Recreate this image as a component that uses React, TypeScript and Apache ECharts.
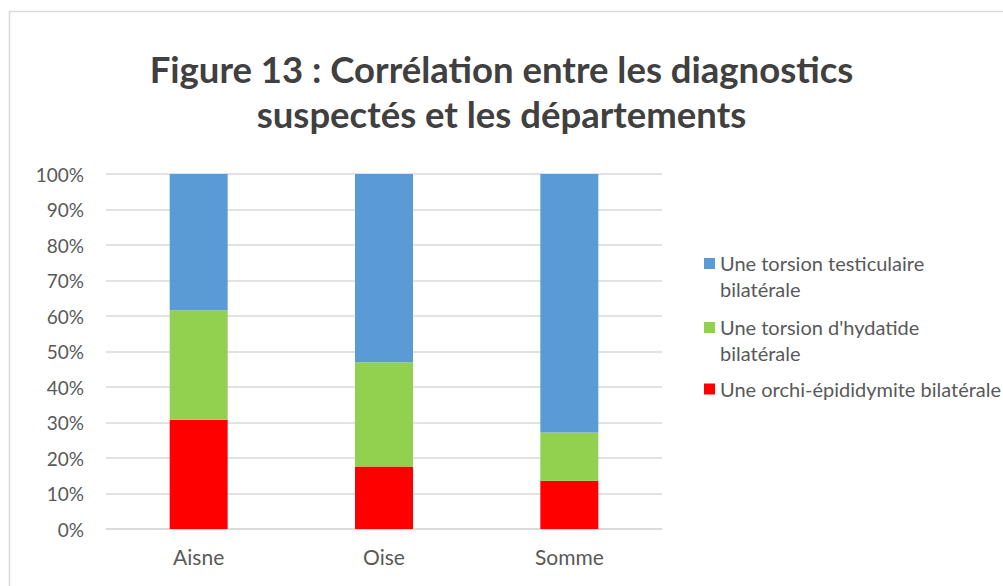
import React, { useEffect, useRef } from "react";
import * as echarts from "echarts";

const categories = ["Aisne", "Oise", "Somme"];
const seriesNames = [
  "Une orchi-épididymite bilatérale",
  "Une torsion d'hydatide bilatérale",
  "Une torsion testiculaire bilatérale",
];
const legendLabels = [
  "Une orchi-épididymite bilatérale",
  "Une torsion d'hydatide\nbilatérale",
  "Une torsion testiculaire\nbilatérale",
];
const orchiValues = [30.8, 17.6, 13.6];
const hydatideValues = [30.8, 29.4, 13.6];
const testiculaireValues = [38.4, 53.0, 72.8];
const seriesValues = [orchiValues, hydatideValues, testiculaireValues];
const colors = ["#FF0000", "#92D050", "#5B9BD5"];
const yTicks = [0, 100, 10];

const FONT = "Lato, 'Open Sans', sans-serif";

export default function App() {
  const ref = useRef<HTMLDivElement>(null);
  useEffect(() => {
    document.body.style.margin = "0";
    const chart = echarts.init(ref.current!, null, { renderer: "svg" });
    const labelOf = (name: string) => legendLabels[seriesNames.indexOf(name)];
    chart.setOption({
      animation: false,
      backgroundColor: "#ffffff",
      textStyle: { fontFamily: FONT },
      title: {
        text: "Figure 13 : Corrélation entre les diagnostics\nsuspectés et les départements",
        left: "center",
        top: 46,
        padding: 0,
        textStyle: {
          fontFamily: FONT,
          fontSize: 36.5,
          fontWeight: "bold",
          lineHeight: 45,
          color: "#404040",
        },
      },
      graphic: [
        {
          type: "rect",
          shape: { x: 9.5, y: 11.5, width: 1200, height: 800 },
          style: { fill: "none", stroke: "#d9d9d9", lineWidth: 1.5 },
          silent: true,
        },
      ],
      legend: [
        {
          orient: "vertical",
          left: 704,
          top: 250,
          padding: 0,
          itemGap: 12,
          itemWidth: 11,
          itemHeight: 36,
          data: [
            { name: seriesNames[2], icon: "path://M0,0h11v11h-11z M0,36h0.01" },
            { name: seriesNames[1], icon: "path://M0,0h11v11h-11z M0,36h0.01" },
          ],
          formatter: labelOf,
          textStyle: { fontFamily: FONT, fontSize: 20, lineHeight: 26, color: "#595959" },
        },
        {
          orient: "vertical",
          left: 704,
          top: 376,
          padding: 0,
          itemWidth: 11,
          itemHeight: 11,
          data: [{ name: seriesNames[0], icon: "rect" }],
          formatter: labelOf,
          textStyle: { fontFamily: FONT, fontSize: 20, lineHeight: 26, color: "#595959" },
        },
      ],
      grid: { left: 106, right: 341, top: 174, bottom: 57, containLabel: false },
      xAxis: {
        type: "category",
        data: categories,
        axisLine: { show: true, lineStyle: { color: "#d9d9d9", width: 1.5 } },
        axisTick: { show: false },
        axisLabel: { fontFamily: FONT, fontSize: 21, color: "#595959", margin: 17 },
      },
      yAxis: {
        type: "value",
        min: yTicks[0],
        max: yTicks[1],
        interval: yTicks[2],
        axisLine: { show: false },
        axisTick: { show: false },
        splitLine: { lineStyle: { color: "#d9d9d9", width: 1.5 } },
        axisLabel: {
          formatter: "{value}%",
          fontFamily: FONT,
          fontSize: 19,
          color: "#595959",
          margin: 22,
        },
      },
      series: seriesNames.map((name, i) => ({
        name,
        type: "bar",
        stack: "total",
        barWidth: 58,
        data: seriesValues[i],
        itemStyle: { color: colors[i] },
      })),
    });
    return () => chart.dispose();
  }, []);
  return <div ref={ref} style={{ width: 1003, height: 586 }} />;
}
